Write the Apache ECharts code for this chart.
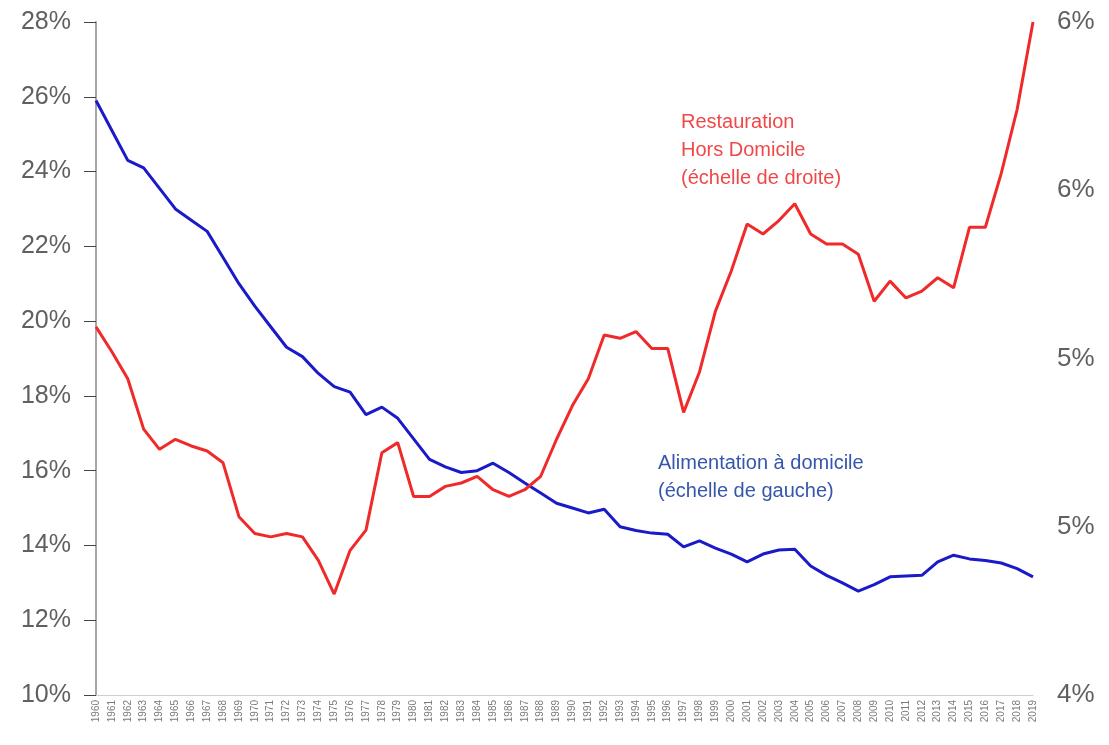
<!DOCTYPE html>
<html>
<head>
<meta charset="utf-8">
<script src="https://cdn.jsdelivr.net/npm/echarts@6/dist/echarts.min.js"></script>
<style>
	html, body { margin: 0; padding: 0; background: #fff; }
	#chart1 { width: 1109px; height: 745px; }
</style>
</head>
<body>
<div id="chart1"></div>
<script>
const years = [];
for (let y = 1960; y <= 2019; y++) years.push(String(y));

// Alimentation à domicile, % (left axis)
const homeFood = [
	25.9, 25.1, 24.3, 24.1, 23.55, 23.0, 22.7, 22.4, 21.7, 21.0,
	20.4, 19.85, 19.3, 19.05, 18.6, 18.25, 18.1, 17.5, 17.7, 17.4,
	16.85, 16.3, 16.1, 15.95, 16.0, 16.2, 15.95, 15.67, 15.4, 15.13,
	15.0, 14.87, 14.97, 14.5, 14.4, 14.33, 14.3, 13.96, 14.12, 13.93,
	13.77, 13.56, 13.77, 13.88, 13.9, 13.45, 13.2, 13.0, 12.78, 12.95,
	13.16, 13.18, 13.2, 13.56, 13.74, 13.64, 13.6, 13.53, 13.38, 13.16
];

// Restauration hors domicile, % (right axis)
const eatingOut = [
	5.094, 5.02, 4.94, 4.79, 4.73, 4.76, 4.74, 4.725, 4.69, 4.53,
	4.48, 4.47, 4.48, 4.47, 4.40, 4.30, 4.43, 4.49, 4.72, 4.75,
	4.59, 4.59, 4.62, 4.63, 4.65, 4.61, 4.59, 4.61, 4.65, 4.76,
	4.86, 4.94, 5.07, 5.06, 5.08, 5.03, 5.03, 4.84, 4.96, 5.14,
	5.26, 5.40, 5.37, 5.41, 5.46, 5.37, 5.34, 5.34, 5.31, 5.17,
	5.23, 5.18, 5.20, 5.24, 5.21, 5.39, 5.39, 5.55, 5.74, 6.0
];

const leftTicks = { min: 10, max: 28, step: 2 };
const rightTicks = { min: 4, max: 6, step: 0.5 };

const getOptionChart1 = () => {
	return {
		animation: false,
		textStyle: { fontFamily: 'Liberation Sans, Arial, sans-serif' },
		grid: { left: 96, right: 76, top: 22, bottom: 50, containLabel: false, outerBoundsMode: 'none' },
		xAxis: {
			type: 'category',
			data: years,
			boundaryGap: false,
			axisLine: { lineStyle: { color: '#cfcfcf', width: 1 } },
			axisTick: { show: false },
			axisLabel: { interval: 0, rotate: 90, fontSize: 10, color: '#7a7a7a', margin: 5 }
		},
		yAxis: [
			{
				type: 'value',
				min: leftTicks.min,
				max: leftTicks.max,
				interval: leftTicks.step,
				splitLine: { show: false },
				axisLine: { show: true, lineStyle: { color: '#a6a6a6', width: 2 } },
				axisTick: { show: true, length: 12, lineStyle: { color: '#444', width: 1 } },
				axisLabel: { formatter: '{value}%', fontSize: 25, color: '#606060', margin: 25 }
			},
			{
				type: 'value',
				min: rightTicks.min,
				max: rightTicks.max,
				interval: rightTicks.step,
				splitLine: { show: false },
				axisLine: { show: false },
				axisTick: { show: false },
				axisLabel: {
					formatter: (v) => Math.round(v) + '%',
					fontSize: 26, color: '#606060', margin: 24
				}
			}
		],
		graphic: [
			{
				type: 'text', left: 681, top: 108,
				style: {
					text: 'Restauration\nHors Domicile\n(échelle de droite)',
					fill: '#f04848', fontSize: 20, lineHeight: 28,
					fontFamily: 'Liberation Sans, Arial, sans-serif'
				}
			},
			{
				type: 'text', left: 658, top: 449,
				style: {
					text: 'Alimentation à domicile\n(échelle de gauche)',
					fill: '#3556aa', fontSize: 20, lineHeight: 28,
					fontFamily: 'Liberation Sans, Arial, sans-serif'
				}
			}
		],
		series: [
			{
				name: 'Alimentation à domicile',
				type: 'line',
				yAxisIndex: 0,
				data: homeFood,
				symbol: 'none',
				lineStyle: { color: '#1a1ac8', width: 3 }
			},
			{
				name: 'Restauration Hors Domicile',
				type: 'line',
				yAxisIndex: 1,
				data: eatingOut,
				symbol: 'none',
				lineStyle: { color: '#f02a2a', width: 3 }
			}
		]
	};
};

const chart1 = echarts.init(document.getElementById('chart1'));
chart1.setOption(getOptionChart1());
</script>
</body>
</html>
